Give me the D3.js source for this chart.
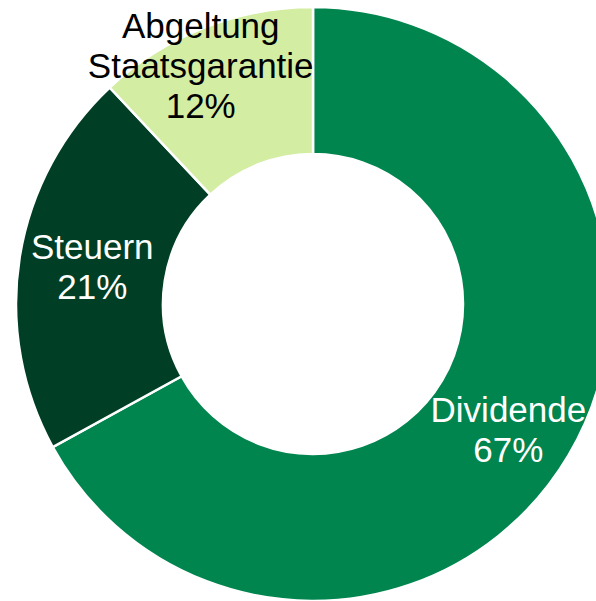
<!DOCTYPE html>
<html>
<head>
<meta charset="utf-8">
<script src="https://cdn.jsdelivr.net/npm/d3@7"></script>
<style>
	html, body {margin: 0; padding: 0; background: #fff; overflow: hidden}
	svg {display: block}
	text {font-family: "Liberation Sans", Arial, sans-serif}
</style>
</head>
<body>
<svg id="chart" width="596" height="601"></svg>
<script>
const categories = ["Dividende", "Steuern", "Abgeltung\nStaatsgarantie"]
const shares = [67, 21, 12]
const sliceColors = ["#00854f", "#003f25", "#d3eda3"]
const labelColors = ["#fff", "#fff", "#000"]
//Excel nudges the small top slice label so it stays inside the plot, same here
const labelNudge = [[3, 12], [0, -2], [-30, -30]]

const width = 596, height = 601
const cx = 313, cy = 304
const outerR = 297, innerR = 150
const fontSize = 35, lineH = 40

const svg = d3.select("#chart")
const g = svg.append("g").attr("transform", `translate(${cx},${cy})`)

const data = categories.map((name, i) => ({name, value: shares[i], i}))

const pie = d3.pie().value(d => d.value).sort(null)
const arc = d3.arc().innerRadius(innerR).outerRadius(outerR)

const arcs = pie(data)

g.selectAll("path.slice")
	.data(arcs)
	.join("path")
		.classed("slice", true)
		.attr("d", arc)
		.attr("fill", d => sliceColors[d.data.i])
		.attr("stroke", "#fff")
		.attr("stroke-width", 2.5)

const labels = g.selectAll("text.label")
	.data(arcs)
	.join("text")
		.classed("label", true)
		.attr("text-anchor", "middle")
		.attr("font-size", fontSize)
		.attr("fill", d => labelColors[d.data.i])
		.attr("transform", d => {
			let [x, y] = arc.centroid(d)
			let [nx, ny] = labelNudge[d.data.i]
			return `translate(${x + nx},${y + ny})`
		})

labels.each(function(d) {
	let lines = [...d.data.name.split("\n"), d.data.value + "%"]
	let firstY = -(lines.length - 1) * lineH / 2 + 12
	d3.select(this).selectAll("tspan")
		.data(lines)
		.join("tspan")
			.attr("x", 0)
			.attr("y", (l, k) => firstY + k * lineH)
			.text(l => l)
})
</script>
</body>
</html>
